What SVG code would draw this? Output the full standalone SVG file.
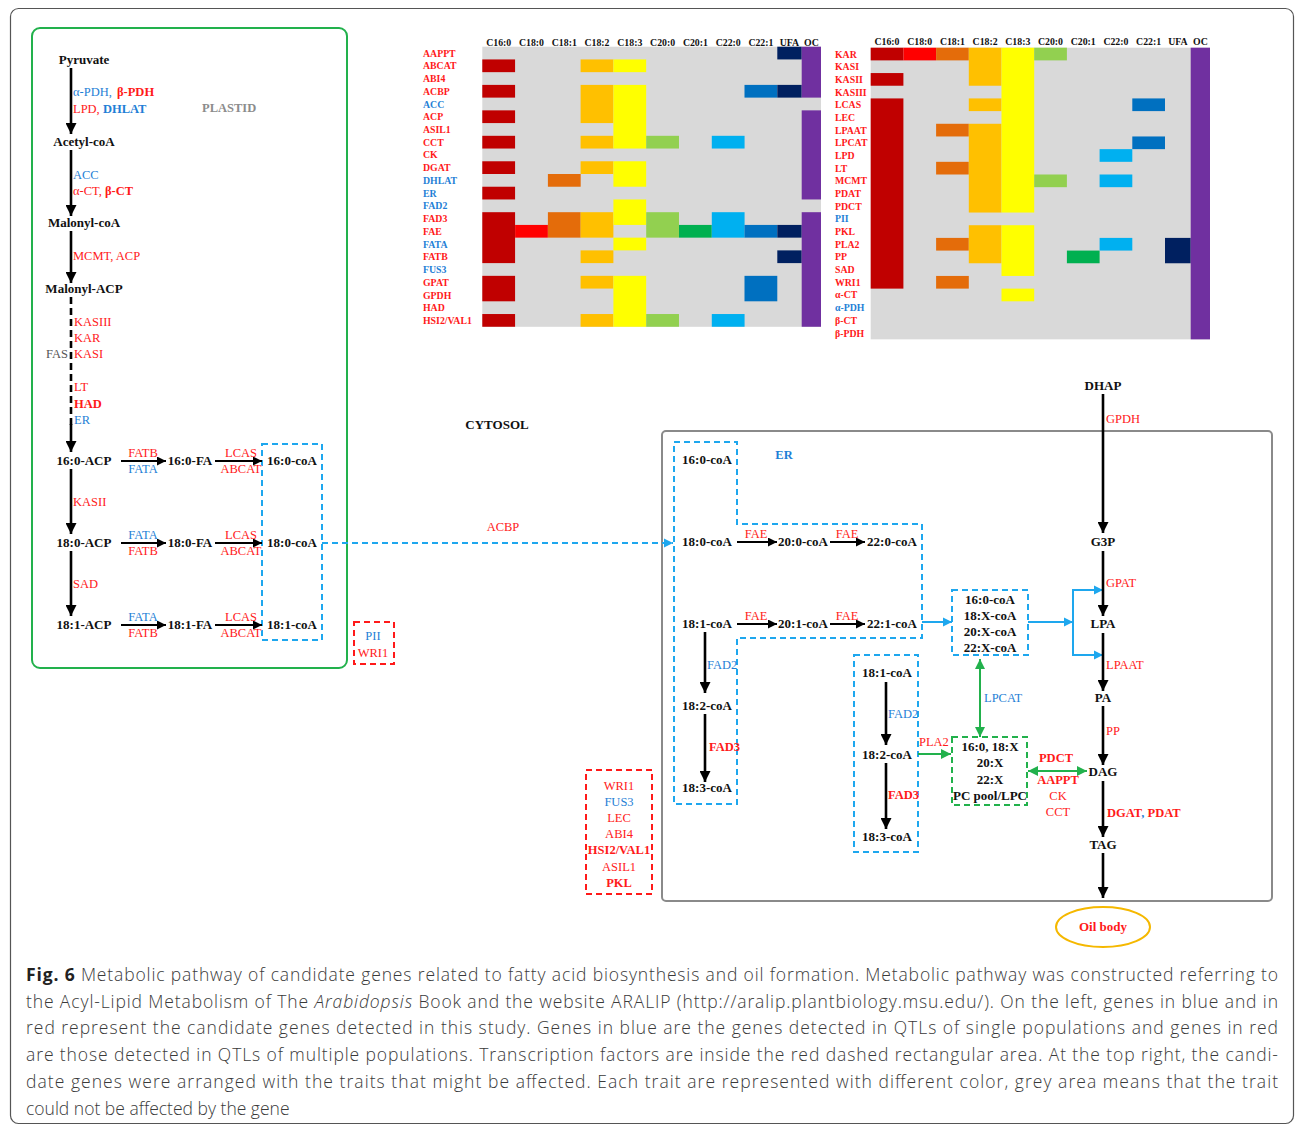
<svg xmlns="http://www.w3.org/2000/svg" width="1295" height="1126" viewBox="0 0 1295 1126">
<style>
.m{font-family:"Liberation Serif",serif;font-weight:bold;font-size:13px;fill:#111}
.g{font-family:"Liberation Serif",serif;font-size:12.5px}
.b{font-weight:bold}
.r{fill:#ff1a1a}
.u{fill:#1f7fd6}
.hl{font-family:"Liberation Serif",serif;font-weight:bold;font-size:9.8px}
.hh{font-family:"Liberation Serif",serif;font-weight:bold;font-size:9.8px;fill:#111;text-anchor:middle}
.mid{text-anchor:middle}
.ak{stroke:#000;stroke-width:2.6;fill:none}
.ah{stroke:#000;stroke-width:2;fill:none}
.bd{stroke:#1ea7ee;stroke-width:2;stroke-dasharray:6 4;fill:none}
.gd{stroke:#22b14c;stroke-width:2;stroke-dasharray:6 4;fill:none}
.rd{stroke:#ff1a1a;stroke-width:2;stroke-dasharray:6 4;fill:none}
.bl{stroke:#1ea7ee;stroke-width:2;fill:none}
.gl{stroke:#22b14c;stroke-width:2;fill:none}
.cap{font-family:"Open Sans","Noto Sans",sans-serif;font-size:17.5px;font-weight:300;fill:#3a3a3a}
.c0{fill:#C00000}.c1{fill:#FF0000}.c2{fill:#E46C0A}.c3{fill:#FFC000}.c4{fill:#FFFF00}.c5{fill:#92D050}.c6{fill:#00B050}.c7{fill:#00B0F0}.c8{fill:#0070C0}.c9{fill:#002060}.c10{fill:#7030A0}
</style>
<defs>
<marker id="aK" viewBox="0 0 10 10" refX="10" refY="5" markerWidth="11" markerHeight="11" markerUnits="userSpaceOnUse" orient="auto"><path d="M0,0L10,5L0,10z" fill="#000"/></marker>
<marker id="aKs" viewBox="0 0 10 10" refX="10" refY="5" markerWidth="9" markerHeight="9" markerUnits="userSpaceOnUse" orient="auto"><path d="M0,0L10,5L0,10z" fill="#000"/></marker>
<marker id="aB" viewBox="0 0 10 10" refX="10" refY="5" markerWidth="9" markerHeight="10" markerUnits="userSpaceOnUse" orient="auto"><path d="M0,0L10,5L0,10z" fill="#1ea7ee"/></marker>
<marker id="aG" viewBox="0 0 10 10" refX="10" refY="5" markerWidth="10" markerHeight="10" markerUnits="userSpaceOnUse" orient="auto-start-reverse"><path d="M0,0L10,5L0,10z" fill="#22b14c"/></marker>
</defs>
<rect x="0" y="0" width="1295" height="1126" fill="#fff"/>
<rect x="10.5" y="8.5" width="1283" height="1115" rx="8" fill="none" stroke="#555" stroke-width="1.2"/>

<!-- Heatmap left -->
<g id="heatmap-left">
<rect x="482.3" y="46.7" width="338.7" height="280.1" fill="#D9D9D9"/>
<g class="c0">
<rect x="482.3" y="59.43" width="32.78" height="12.73"/><rect x="482.3" y="84.89" width="32.78" height="12.73"/><rect x="482.3" y="110.35" width="32.78" height="12.73"/><rect x="482.3" y="135.81" width="32.78" height="12.73"/><rect x="482.3" y="161.27" width="32.78" height="12.73"/><rect x="482.3" y="186.73" width="32.78" height="12.73"/><rect x="482.3" y="212.19" width="32.78" height="50.92"/><rect x="482.3" y="275.84" width="32.78" height="25.46"/><rect x="482.3" y="314.03" width="32.78" height="12.73"/>
</g>
<rect class="c1" x="515.1" y="224.92" width="32.78" height="12.73"/>
<g class="c2"><rect x="547.9" y="174" width="32.78" height="12.73"/><rect x="547.9" y="212.19" width="32.78" height="25.46"/></g>
<g class="c3">
<rect x="580.6" y="59.43" width="32.78" height="12.73"/><rect x="580.6" y="84.89" width="32.78" height="38.19"/><rect x="580.6" y="135.81" width="32.78" height="12.73"/><rect x="580.6" y="161.27" width="32.78" height="12.73"/><rect x="580.6" y="212.19" width="32.78" height="25.46"/><rect x="580.6" y="250.38" width="32.78" height="12.73"/><rect x="580.6" y="275.84" width="32.78" height="12.73"/><rect x="580.6" y="314.03" width="32.78" height="12.73"/>
</g>
<g class="c4">
<rect x="613.4" y="59.43" width="32.78" height="12.73"/><rect x="613.4" y="84.89" width="32.78" height="63.65"/><rect x="613.4" y="161.27" width="32.78" height="25.46"/><rect x="613.4" y="199.46" width="32.78" height="25.46"/><rect x="613.4" y="237.65" width="32.78" height="12.73"/><rect x="613.4" y="275.84" width="32.78" height="50.92"/>
</g>
<g class="c5"><rect x="646.2" y="135.81" width="32.78" height="12.73"/><rect x="646.2" y="212.19" width="32.78" height="25.46"/><rect x="646.2" y="314.03" width="32.78" height="12.73"/></g>
<rect class="c6" x="679" y="224.92" width="32.78" height="12.73"/>
<g class="c7"><rect x="711.8" y="135.81" width="32.78" height="12.73"/><rect x="711.8" y="212.19" width="32.78" height="25.46"/><rect x="711.8" y="314.03" width="32.78" height="12.73"/></g>
<g class="c8"><rect x="744.5" y="84.89" width="32.78" height="12.73"/><rect x="744.5" y="224.92" width="32.78" height="12.73"/><rect x="744.5" y="275.84" width="32.78" height="25.46"/></g>
<g class="c9"><rect x="777.3" y="46.7" width="24.4" height="12.73"/><rect x="777.3" y="84.89" width="24.4" height="12.73"/><rect x="777.3" y="224.92" width="24.4" height="12.73"/><rect x="777.3" y="250.38" width="24.4" height="12.73"/></g>
<g class="c10"><rect x="801.7" y="46.7" width="19.3" height="50.92"/><rect x="801.7" y="110.35" width="19.3" height="89.11"/><rect x="801.7" y="212.19" width="19.3" height="114.57"/></g>
<g>
<text class="hh" x="498.7" y="45.5">C16:0</text><text class="hh" x="531.5" y="45.5">C18:0</text><text class="hh" x="564.3" y="45.5">C18:1</text><text class="hh" x="597" y="45.5">C18:2</text><text class="hh" x="629.8" y="45.5">C18:3</text><text class="hh" x="662.6" y="45.5">C20:0</text><text class="hh" x="695.4" y="45.5">C20:1</text><text class="hh" x="728.2" y="45.5">C22:0</text><text class="hh" x="760.9" y="45.5">C22:1</text><text class="hh" x="789.5" y="45.5">UFA</text><text class="hh" x="811.4" y="45.5">OC</text>
</g>
<g class="hl">
<text class="r" x="423" y="56.6">AAPPT</text><text class="r" x="423" y="69.3">ABCAT</text><text class="r" x="423" y="82.1">ABI4</text><text class="r" x="423" y="94.8">ACBP</text><text class="u" x="423" y="107.5">ACC</text><text class="r" x="423" y="120.3">ACP</text><text class="r" x="423" y="133">ASIL1</text><text class="r" x="423" y="145.7">CCT</text><text class="r" x="423" y="158.4">CK</text><text class="r" x="423" y="171.2">DGAT</text><text class="u" x="423" y="183.9">DHLAT</text><text class="u" x="423" y="196.6">ER</text><text class="u" x="423" y="209.4">FAD2</text><text class="r" x="423" y="222.1">FAD3</text><text class="r" x="423" y="234.8">FAE</text><text class="u" x="423" y="247.6">FATA</text><text class="r" x="423" y="260.3">FATB</text><text class="u" x="423" y="273">FUS3</text><text class="r" x="423" y="285.7">GPAT</text><text class="r" x="423" y="298.5">GPDH</text><text class="r" x="423" y="311.2">HAD</text><text class="r" x="423" y="323.9">HSI2/VAL1</text>
</g>
</g>

<!-- Heatmap right -->
<g id="heatmap-right">
<rect x="870.7" y="47.7" width="339.3" height="291.64" fill="#D9D9D9"/>
<g class="c0"><rect x="870.7" y="47.7" width="32.7" height="12.68"/><rect x="870.7" y="73.06" width="32.7" height="12.68"/><rect x="870.7" y="98.42" width="32.7" height="190.2"/></g>
<rect class="c1" x="903.4" y="47.7" width="32.7" height="12.68"/>
<g class="c2"><rect x="936.1" y="47.7" width="32.7" height="12.68"/><rect x="936.1" y="123.78" width="32.7" height="12.68"/><rect x="936.1" y="161.82" width="32.7" height="12.68"/><rect x="936.1" y="237.9" width="32.7" height="12.68"/><rect x="936.1" y="275.94" width="32.7" height="12.68"/></g>
<g class="c3"><rect x="968.8" y="47.7" width="32.7" height="38.04"/><rect x="968.8" y="98.42" width="32.7" height="12.68"/><rect x="968.8" y="123.78" width="32.7" height="88.76"/><rect x="968.8" y="225.22" width="32.7" height="38.04"/></g>
<g class="c4"><rect x="1001.5" y="47.7" width="32.7" height="164.84"/><rect x="1001.5" y="225.22" width="32.7" height="50.72"/><rect x="1001.5" y="288.62" width="32.7" height="12.68"/></g>
<g class="c5"><rect x="1034.2" y="47.7" width="32.7" height="12.68"/><rect x="1034.2" y="174.5" width="32.7" height="12.68"/></g>
<rect class="c6" x="1066.9" y="250.58" width="32.7" height="12.68"/>
<g class="c7"><rect x="1099.6" y="149.14" width="32.7" height="12.68"/><rect x="1099.6" y="174.5" width="32.7" height="12.68"/><rect x="1099.6" y="237.9" width="32.7" height="12.68"/></g>
<g class="c8"><rect x="1132.3" y="98.42" width="32.7" height="12.68"/><rect x="1132.3" y="136.46" width="32.7" height="12.68"/></g>
<rect class="c9" x="1165" y="237.9" width="25.7" height="25.36"/>
<rect class="c10" x="1190.7" y="47.7" width="19.3" height="291.64"/>
<g>
<text class="hh" x="887" y="45">C16:0</text><text class="hh" x="919.7" y="45">C18:0</text><text class="hh" x="952.4" y="45">C18:1</text><text class="hh" x="985.1" y="45">C18:2</text><text class="hh" x="1017.8" y="45">C18:3</text><text class="hh" x="1050.5" y="45">C20:0</text><text class="hh" x="1083.2" y="45">C20:1</text><text class="hh" x="1115.9" y="45">C22:0</text><text class="hh" x="1148.6" y="45">C22:1</text><text class="hh" x="1177.9" y="45">UFA</text><text class="hh" x="1200.4" y="45">OC</text>
</g>
<g class="hl">
<text class="r" x="835" y="57.5">KAR</text><text class="r" x="835" y="70.2">KASI</text><text class="r" x="835" y="82.9">KASII</text><text class="r" x="835" y="95.5">KASIII</text><text class="r" x="835" y="108.2">LCAS</text><text class="r" x="835" y="120.9">LEC</text><text class="r" x="835" y="133.6">LPAAT</text><text class="r" x="835" y="146.3">LPCAT</text><text class="r" x="835" y="158.9">LPD</text><text class="r" x="835" y="171.6">LT</text><text class="r" x="835" y="184.3">MCMT</text><text class="r" x="835" y="197">PDAT</text><text class="r" x="835" y="209.7">PDCT</text><text class="u" x="835" y="222.3">PII</text><text class="r" x="835" y="235">PKL</text><text class="r" x="835" y="247.7">PLA2</text><text class="r" x="835" y="260.4">PP</text><text class="r" x="835" y="273.1">SAD</text><text class="r" x="835" y="285.7">WRI1</text><text class="r" x="835" y="298.4">α-CT</text><text class="u" x="835" y="311.1">α-PDH</text><text class="r" x="835" y="323.8">β-CT</text><text class="r" x="835" y="336.5">β-PDH</text>
</g>
</g>

<!-- Plastid -->
<g id="plastid">
<rect x="32" y="28" width="315" height="640" rx="8" fill="none" stroke="#22b14c" stroke-width="2"/>
<text x="202" y="112" font-family="Liberation Serif, serif" font-weight="bold" font-size="12.5" fill="#8c8c8c">PLASTID</text>
</g>
<g id="pyruvate"><text class="m mid" x="84" y="64">Pyruvate</text></g>
<g id="acetyl-coa"><text class="m mid" x="84" y="146">Acetyl-coA</text></g>
<g id="malonyl-coa"><text class="m mid" x="84" y="227">Malonyl-coA</text></g>
<g id="malonyl-acp"><text class="m mid" x="84" y="293">Malonyl-ACP</text></g>
<g id="c160-acp"><text class="m mid" x="84" y="465">16:0-ACP</text></g>
<g id="c180-acp"><text class="m mid" x="84" y="547">18:0-ACP</text></g>
<g id="c181-acp"><text class="m mid" x="84" y="629">18:1-ACP</text></g>
<g id="c160-fa"><text class="m mid" x="190" y="465">16:0-FA</text></g>
<g id="c180-fa"><text class="m mid" x="190" y="547">18:0-FA</text></g>
<g id="c181-fa"><text class="m mid" x="190" y="629">18:1-FA</text></g>
<g id="plastid-coa">
<rect class="bd" x="262" y="444" width="60" height="196"/>
<text class="m mid" x="292" y="465">16:0-coA</text>
<text class="m mid" x="292" y="547">18:0-coA</text>
<text class="m mid" x="292" y="629">18:1-coA</text>
</g>
<g id="tf-small">
<rect class="rd" x="354" y="622" width="40" height="42"/>
<text class="g u mid" x="373" y="640">PII</text>
<text class="g r mid" x="373" y="657">WRI1</text>
</g>
<g id="cytosol-label"><text class="m mid" x="497" y="429" font-size="12">CYTOSOL</text></g>

<!-- ER region -->
<g id="er-frame">
<rect x="662" y="431" width="610" height="470" rx="4" fill="none" stroke="#8a8a8a" stroke-width="2"/>
<text x="784" y="459" class="mid u b" font-family="Liberation Serif, serif" font-size="12.5">ER</text>
</g>
<g id="er-acyl">
<path class="bd" d="M674,442H737V524H922V638H737V804H674Z"/>
<text class="m mid" x="707" y="464">16:0-coA</text>
<text class="m mid" x="707" y="546">18:0-coA</text>
<text class="m mid" x="803" y="546">20:0-coA</text>
<text class="m mid" x="892" y="546">22:0-coA</text>
<text class="m mid" x="707" y="628">18:1-coA</text>
<text class="m mid" x="803" y="628">20:1-coA</text>
<text class="m mid" x="892" y="628">22:1-coA</text>
<text class="m mid" x="707" y="710">18:2-coA</text>
<text class="m mid" x="707" y="792">18:3-coA</text>
</g>
<g id="acyl-pool">
<rect class="bd" x="952" y="590" width="76" height="65"/>
<text class="m mid" x="990" y="604">16:0-coA</text>
<text class="m mid" x="990" y="620">18:X-coA</text>
<text class="m mid" x="990" y="636">20:X-coA</text>
<text class="m mid" x="990" y="652">22:X-coA</text>
</g>
<g id="pc-pool">
<rect class="gd" x="952" y="737" width="75" height="68"/>
<text class="m mid" x="990" y="751">16:0, 18:X</text>
<text class="m mid" x="990" y="767">20:X</text>
<text class="m mid" x="990" y="784">22:X</text>
<text class="m mid" x="990" y="800">PC pool/LPC</text>
</g>
<g id="desat-box">
<rect class="bd" x="854" y="655" width="64" height="197"/>
<text class="m mid" x="887" y="677">18:1-coA</text>
<text class="m mid" x="887" y="759">18:2-coA</text>
<text class="m mid" x="887" y="841">18:3-coA</text>
</g>
<g id="dhap"><text class="m mid" x="1103" y="390">DHAP</text></g>
<g id="g3p"><text class="m mid" x="1103" y="546">G3P</text></g>
<g id="lpa"><text class="m mid" x="1103" y="628">LPA</text></g>
<g id="pa"><text class="m mid" x="1103" y="702">PA</text></g>
<g id="dag"><text class="m mid" x="1103" y="776">DAG</text></g>
<g id="tag"><text class="m mid" x="1103" y="849">TAG</text></g>
<g id="oil-body">
<ellipse cx="1103" cy="927" rx="47" ry="20" fill="#fff" stroke="#f5b800" stroke-width="2"/>
<text class="m mid r" x="1103" y="931" font-size="12.5">Oil body</text>
</g>
<g id="tf-box">
<rect class="rd" x="586" y="770" width="66" height="124"/>
<text class="g r mid" x="619" y="790">WRI1</text>
<text class="g u mid" x="619" y="806">FUS3</text>
<text class="g r mid" x="619" y="822">LEC</text>
<text class="g r mid" x="619" y="838">ABI4</text>
<text class="g r mid b" x="619" y="854">HSI2/VAL1</text>
<text class="g r mid" x="619" y="871">ASIL1</text>
<text class="g r mid b" x="619" y="887" font-size="13.5">PKL</text>
</g>

<!-- Connectors -->
<g id="connectors">
<line class="ak" x1="71" y1="68" x2="71" y2="134" marker-end="url(#aK)"/>
<line class="ak" x1="71" y1="150" x2="71" y2="216" marker-end="url(#aK)"/>
<line class="ak" x1="71" y1="231" x2="71" y2="283" marker-end="url(#aK)"/>
<line class="ak" x1="71" y1="297" x2="71" y2="425" stroke-dasharray="7 4"/>
<line class="ak" x1="71" y1="424" x2="71" y2="452" marker-end="url(#aK)"/>
<line class="ak" x1="71" y1="469" x2="71" y2="534" marker-end="url(#aK)"/>
<line class="ak" x1="71" y1="551" x2="71" y2="616" marker-end="url(#aK)"/>
<line class="ah" x1="121" y1="461" x2="166" y2="461" marker-end="url(#aKs)"/>
<line class="ah" x1="215" y1="461" x2="262" y2="461" marker-end="url(#aKs)"/>
<line class="ah" x1="121" y1="543" x2="166" y2="543" marker-end="url(#aKs)"/>
<line class="ah" x1="215" y1="543" x2="262" y2="543" marker-end="url(#aKs)"/>
<line class="ah" x1="121" y1="625" x2="166" y2="625" marker-end="url(#aKs)"/>
<line class="ah" x1="215" y1="625" x2="262" y2="625" marker-end="url(#aKs)"/>
<line class="bd" x1="322" y1="543" x2="673" y2="543" marker-end="url(#aB)"/>
<line class="ah" x1="737" y1="542" x2="777" y2="542" marker-end="url(#aKs)"/>
<line class="ah" x1="830" y1="542" x2="865" y2="542" marker-end="url(#aKs)"/>
<line class="ah" x1="737" y1="624" x2="777" y2="624" marker-end="url(#aKs)"/>
<line class="ah" x1="830" y1="624" x2="865" y2="624" marker-end="url(#aKs)"/>
<line class="ak" x1="705" y1="632" x2="705" y2="693" marker-end="url(#aK)"/>
<line class="ak" x1="705" y1="714" x2="705" y2="782" marker-end="url(#aK)"/>
<line class="ak" x1="886" y1="682" x2="886" y2="745" marker-end="url(#aK)"/>
<line class="ak" x1="886" y1="763" x2="886" y2="829" marker-end="url(#aK)"/>
<line class="bl" x1="922" y1="622" x2="952" y2="622" marker-end="url(#aB)"/>
<line class="bl" x1="1028" y1="622" x2="1073" y2="622" marker-end="url(#aB)"/>
<path class="bl" d="M1073,590V655"/>
<line class="bl" x1="1072" y1="590" x2="1103" y2="590" marker-end="url(#aB)"/>
<line class="bl" x1="1072" y1="655" x2="1103" y2="655" marker-end="url(#aB)"/>
<line class="gl" x1="980" y1="659" x2="980" y2="737" marker-start="url(#aG)" marker-end="url(#aG)"/>
<line class="gl" x1="918" y1="754" x2="951" y2="754" marker-end="url(#aG)"/>
<line class="gl" x1="1028" y1="771" x2="1087" y2="771" marker-start="url(#aG)" marker-end="url(#aG)"/>
<line class="ak" x1="1103" y1="394" x2="1103" y2="533" marker-end="url(#aK)"/>
<line class="ak" x1="1103" y1="551" x2="1103" y2="616" marker-end="url(#aK)"/>
<line class="ak" x1="1103" y1="633" x2="1103" y2="691" marker-end="url(#aK)"/>
<line class="ak" x1="1103" y1="706" x2="1103" y2="765" marker-end="url(#aK)"/>
<line class="ak" x1="1103" y1="781" x2="1103" y2="837" marker-end="url(#aK)"/>
<line class="ak" x1="1103" y1="853" x2="1103" y2="898" marker-end="url(#aK)"/>
</g>

<!-- Connector labels -->
<g id="labels" class="g">
<text class="u" x="73" y="96">α-PDH, <tspan class="r b" dx="2">β-PDH</tspan></text>
<text class="r" x="73" y="113">LPD, <tspan class="u b">DHLAT</tspan></text>
<text class="u" x="73" y="179">ACC</text>
<text class="r" x="73" y="195">α-CT, <tspan class="b">β-CT</tspan></text>
<text class="r" x="73" y="260">MCMT, ACP</text>
<text class="r" x="74" y="326">KASIII</text>
<text class="r" x="74" y="342">KAR</text>
<text x="46" y="358" fill="#555">FAS</text>
<text class="r" x="74" y="358">KASI</text>
<text class="r" x="74" y="391">LT</text>
<text class="r b" x="74" y="408">HAD</text>
<text class="u" x="74" y="424">ER</text>
<text class="r" x="73" y="506">KASII</text>
<text class="r" x="73" y="588">SAD</text>
<text class="r mid" x="143" y="457">FATB</text>
<text class="u mid" x="143" y="473">FATA</text>
<text class="r mid" x="241" y="457">LCAS</text>
<text class="r mid" x="241" y="473">ABCAT</text>
<text class="u mid" x="143" y="539">FATA</text>
<text class="r mid" x="143" y="555">FATB</text>
<text class="r mid" x="241" y="539">LCAS</text>
<text class="r mid" x="241" y="555">ABCAT</text>
<text class="u mid" x="143" y="621">FATA</text>
<text class="r mid" x="143" y="637">FATB</text>
<text class="r mid" x="241" y="621">LCAS</text>
<text class="r mid" x="241" y="637">ABCAT</text>
<text class="r mid" x="503" y="531">ACBP</text>
<text class="r mid" x="756" y="538">FAE</text>
<text class="r mid" x="847" y="538">FAE</text>
<text class="r mid" x="756" y="620">FAE</text>
<text class="r mid" x="847" y="620">FAE</text>
<text class="u" x="707" y="669">FAD2</text>
<text class="r b" x="709" y="751">FAD3</text>
<text class="u" x="888" y="718">FAD2</text>
<text class="r b" x="888" y="799">FAD3</text>
<text class="r" x="919" y="746">PLA2</text>
<text class="u" x="984" y="702">LPCAT</text>
<text class="r b mid" x="1056" y="762">PDCT</text>
<text class="r b mid" x="1058" y="784">AAPPT</text>
<text class="r mid" x="1058" y="800">CK</text>
<text class="r mid" x="1058" y="816">CCT</text>
<text class="r" x="1106" y="423">GPDH</text>
<text class="r" x="1106" y="587">GPAT</text>
<text class="r" x="1106" y="669">LPAAT</text>
<text class="r" x="1106" y="735">PP</text>
<text class="r b" x="1107" y="817">DGAT<tspan class="u">, </tspan>PDAT</text>
</g>

<!-- Caption -->
<g id="caption" class="cap">
<text x="26" y="981" textLength="1252" lengthAdjust="spacing"><tspan font-weight="bold" fill="#222">Fig. 6</tspan> Metabolic pathway of candidate genes related to fatty acid biosynthesis and oil formation. Metabolic pathway was constructed referring to</text>
<text x="26" y="1008" textLength="1252" lengthAdjust="spacing">the Acyl-Lipid Metabolism of The <tspan font-style="italic">Arabidopsis</tspan> Book and the website ARALIP (http://aralip.plantbiology.msu.edu/). On the left, genes in blue and in</text>
<text x="26" y="1034" textLength="1252" lengthAdjust="spacing">red represent the candidate genes detected in this study. Genes in blue are the genes detected in QTLs of single populations and genes in red</text>
<text x="26" y="1061" textLength="1252" lengthAdjust="spacing">are those detected in QTLs of multiple populations. Transcription factors are inside the red dashed rectangular area. At the top right, the candi-</text>
<text x="26" y="1088" textLength="1252" lengthAdjust="spacing">date genes were arranged with the traits that might be affected. Each trait are represented with different color, grey area means that the trait</text>
<text x="26" y="1115">could not be affected by the gene</text>
</g>
</svg>
